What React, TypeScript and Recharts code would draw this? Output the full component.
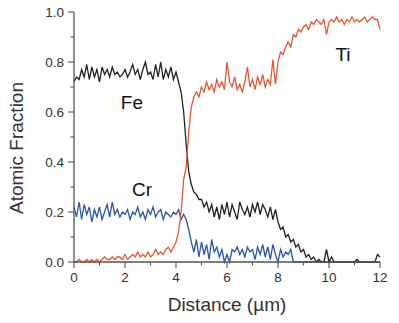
import React from "react";
import { LineChart, Line, XAxis, YAxis, ReferenceDot } from "recharts";

const distance: number[] = Array.from({ length: 121 }, (_, i) => Math.round(i) / 10);

const fe: number[] = [
  0.72, 0.74, 0.73, 0.77, 0.74, 0.79, 0.73, 0.78, 0.74, 0.77,
  0.72, 0.78, 0.75, 0.77, 0.74, 0.78, 0.75, 0.76, 0.74, 0.75,
  0.77, 0.74, 0.76, 0.79, 0.75, 0.77, 0.73, 0.77, 0.80, 0.75,
  0.76, 0.73, 0.79, 0.74, 0.80, 0.73, 0.77, 0.74, 0.78, 0.73,
  0.76, 0.72, 0.68, 0.60, 0.47, 0.36, 0.31, 0.28, 0.27, 0.25,
  0.25, 0.22, 0.24, 0.20, 0.23, 0.18, 0.22, 0.17, 0.23, 0.19,
  0.24, 0.18, 0.23, 0.20, 0.17, 0.24, 0.21, 0.19, 0.22, 0.18,
  0.23, 0.20, 0.24, 0.19, 0.23, 0.21, 0.18, 0.22, 0.17, 0.21,
  0.16, 0.13, 0.14, 0.10, 0.11, 0.08, 0.09, 0.06, 0.07, 0.04,
  0.05, 0.02, 0.03, 0.01, 0.02, 0.00, 0.01, 0.00, 0.00, 0.05,
  0.00, 0.02, 0.00, 0.00, 0.00, 0.00, 0.00, 0.00, 0.00, 0.00,
  0.00, 0.01, 0.00, 0.00, 0.00, 0.00, 0.00, 0.00, 0.00, 0.03,
  0.02,
];

const ti: number[] = [
  0.00, 0.00, 0.01, 0.00, 0.00, 0.01, 0.00, 0.01, 0.00, 0.01,
  0.00, 0.01, 0.02, 0.01, 0.01, 0.02, 0.01, 0.02, 0.02, 0.01,
  0.03, 0.01, 0.02, 0.03, 0.02, 0.04, 0.02, 0.03, 0.02, 0.04,
  0.02, 0.03, 0.05, 0.03, 0.04, 0.03, 0.05, 0.06, 0.04, 0.06,
  0.08, 0.12, 0.20, 0.33, 0.38, 0.52, 0.62, 0.66, 0.68, 0.66,
  0.70, 0.68, 0.72, 0.69, 0.71, 0.68, 0.73, 0.70, 0.72, 0.69,
  0.80, 0.72, 0.70, 0.74, 0.69, 0.71, 0.68, 0.72, 0.78, 0.70,
  0.73, 0.69, 0.74, 0.71, 0.75, 0.70, 0.73, 0.71, 0.81, 0.71,
  0.80, 0.84, 0.83, 0.86, 0.88, 0.86, 0.91, 0.90, 0.93, 0.92,
  0.94, 0.95, 0.93, 0.96, 0.95, 0.97, 0.96, 0.95, 0.97, 0.91,
  0.96, 0.97, 0.96, 0.98, 0.96, 0.97, 0.95, 0.97, 0.96, 0.98,
  0.96, 0.97, 0.96, 0.97, 0.98, 0.96, 0.97, 0.98, 0.97, 0.97,
  0.93,
];

const cr: number[] = [
  0.22, 0.18, 0.24, 0.17, 0.23, 0.19, 0.22, 0.16, 0.21, 0.18,
  0.22, 0.17, 0.20, 0.23, 0.18, 0.24, 0.19, 0.21, 0.18, 0.20,
  0.19, 0.21, 0.17, 0.20, 0.19, 0.22, 0.18, 0.20, 0.17, 0.21,
  0.19, 0.22, 0.18, 0.20, 0.21, 0.17, 0.20, 0.19, 0.18, 0.20,
  0.19, 0.21, 0.17, 0.19, 0.17, 0.13, 0.08, 0.04, 0.09, 0.02,
  0.08, 0.03, 0.07, 0.01, 0.09, 0.04, 0.06, 0.02, 0.05, 0.00,
  0.03, 0.00, 0.05, 0.04, 0.06, 0.03, 0.05, 0.02, 0.06, 0.04,
  0.05, 0.01, 0.06, 0.03, 0.07, 0.02, 0.06, 0.01, 0.07, 0.03,
  0.00, 0.05, 0.02, 0.04, 0.03, 0.05, 0.00, 0.00, 0.00, 0.00,
  0.00, 0.00, 0.00, 0.00, 0.00, 0.00, 0.00, 0.00, 0.00, 0.00,
  0.00, 0.00, 0.00, 0.00, 0.00, 0.00, 0.00, 0.00, 0.00, 0.00,
  0.00, 0.00, 0.00, 0.00, 0.00, 0.00, 0.00, 0.00, 0.00, 0.00,
  0.00,
];

const xTicks: number[] = [0, 1, 2, 3, 4, 5, 6, 7, 8, 9, 10, 11, 12];
const yTicks: number[] = [0, 0.1, 0.2, 0.3, 0.4, 0.5, 0.6, 0.7, 0.8, 0.9, 1.0];

const data = distance.map((x, i) => ({ x, fe: fe[i], ti: ti[i], cr: cr[i] }));

const FONT = "'Liberation Sans', Arial, sans-serif";
const AXIS = "#555";
const TXT = "#333";

const XTick = (props: any) => {
  const { x, y, payload } = props;
  const v = payload.value as number;
  const major = Math.round(v) % 2 === 0;
  return (
    <g>
      <line x1={x} x2={x} y1={y} y2={y + (major ? 6 : 3.5)} stroke={AXIS} strokeWidth={1.1} />
      {major && (
        <text x={x} y={y + 20} textAnchor="middle" fontSize={13.5} fontFamily={FONT} fill={TXT}>
          {String(v)}
        </text>
      )}
    </g>
  );
};

const YTick = (props: any) => {
  const { x, y, payload } = props;
  const v = payload.value as number;
  const major = Math.round(v * 10) % 2 === 0;
  return (
    <g>
      <line x1={x} x2={x - (major ? 6 : 3.5)} y1={y} y2={y} stroke={AXIS} strokeWidth={1.1} />
      {major && (
        <text x={x - 10} y={y + 4.5} textAnchor="end" fontSize={13.5} fontFamily={FONT} fill={TXT}>
          {v.toFixed(1)}
        </text>
      )}
    </g>
  );
};

const labelStyle = (value: string) => ({
  value,
  position: "center" as const,
  fontSize: 19,
  fontFamily: FONT,
  fill: "#111",
});

const YTitle = () => (
  <text
    x={23}
    y={148}
    transform="rotate(-90, 23, 148)"
    textAnchor="middle"
    fontSize={19}
    fontFamily={FONT}
    fill={TXT}
  >
    Atomic Fraction
  </text>
);

export default function App() {
  return (
    <div style={{ width: 399, height: 323, margin: "-8px 0 0 -8px", background: "#fff" }}>
      <LineChart
        width={399}
        height={323}
        data={data}
        margin={{ top: 12, right: 19, bottom: 0, left: 0 }}
      >
        <XAxis
          dataKey="x"
          type="number"
          domain={[0, 12]}
          ticks={xTicks}
          interval={0}
          height={61}
          tickSize={0}
          tickMargin={0}
          tickLine={false}
          tick={<XTick />}
          axisLine={{ stroke: AXIS, strokeWidth: 1.3 }}
          label={{
            value: "Distance (µm)",
            position: "insideBottom",
            offset: 12,
            fontSize: 19,
            fontFamily: FONT,
            fill: TXT,
          }}
        />
        <YAxis
          type="number"
          domain={[0, 1]}
          ticks={yTicks}
          interval={0}
          width={74}
          tickSize={0}
          tickMargin={0}
          tickLine={false}
          tick={<YTick />}
          axisLine={{ stroke: AXIS, strokeWidth: 1.3 }}
          label={{ value: "Atomic Fraction", content: () => <YTitle /> }}
        />
        <Line dataKey="cr" stroke="#2a56b0" strokeWidth={1.3} dot={false} isAnimationActive={false} />
        <Line dataKey="fe" stroke="#222" strokeWidth={1.3} dot={false} isAnimationActive={false} />
        <Line dataKey="ti" stroke="#ea5530" strokeWidth={1.3} dot={false} isAnimationActive={false} />
        <ReferenceDot x={2.27} y={0.64} r={0} fill="none" stroke="none" label={labelStyle("Fe")} />
        <ReferenceDot x={10.55} y={0.83} r={0} fill="none" stroke="none" label={labelStyle("Ti")} />
        <ReferenceDot x={2.67} y={0.29} r={0} fill="none" stroke="none" label={labelStyle("Cr")} />
      </LineChart>
    </div>
  );
}
